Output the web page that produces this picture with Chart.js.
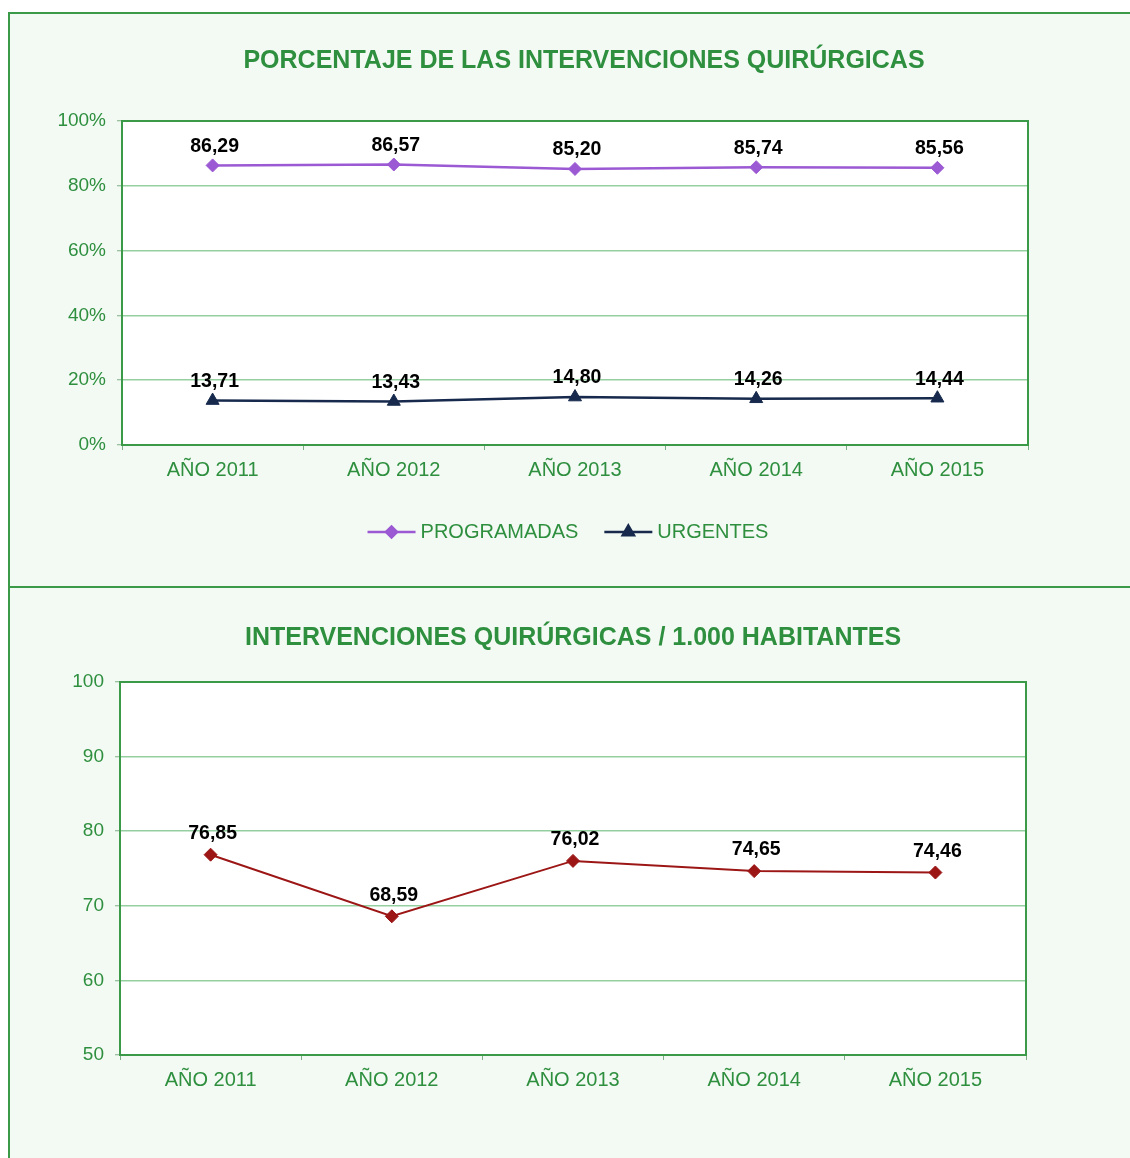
<!DOCTYPE html>
<html>
<head>
<meta charset="utf-8">
<script src="https://cdn.jsdelivr.net/npm/chart.js@4.4.1/dist/chart.umd.min.js"></script>
<style>
  body { margin: 0; background: #fff; width: 1130px; height: 1158px; overflow: hidden; position: relative; }
  .panel { position: absolute; left: 8px; width: 1200px; border: 2px solid #3a9a48; background: #f3faf3; }
  #p1 { top: 12px; height: 574px; }
  #p2 { top: 586px; height: 600px; }
  canvas { position: absolute; left: 0; }
  #c1 { top: 0; }
  #c2 { top: 588px; }
</style>
</head>
<body>
<div class="panel" id="p1"></div>
<div class="panel" id="p2"></div>
<canvas id="c1" width="1130" height="588"></canvas>
<canvas id="c2" width="1130" height="570"></canvas>
<script>
// data
var years = ['AÑO 2011', 'AÑO 2012', 'AÑO 2013', 'AÑO 2014', 'AÑO 2015'];
var programadas = [86.29, 86.57, 85.20, 85.74, 85.56];
var urgentes = [13.71, 13.43, 14.80, 14.26, 14.44];
var porMil = [76.85, 68.59, 76.02, 74.65, 74.46];

var green = '#3a9a48';
var textGreen = '#2e8f3f';
var gridGreen = '#95cf9f';
var font = '"Liberation Sans", Arial, sans-serif';

function fmt(v) {
  return v.toFixed(2).replace('.', ',');
}

// white plot area, green frame, value labels, title, legend
var decor = {
  id: 'decor',
  beforeDraw: function(chart) {
    var a = chart.chartArea;
    var ctx = chart.ctx;
    ctx.save();
    ctx.fillStyle = '#fff';
    ctx.fillRect(a.left, a.top, a.right - a.left, a.bottom - a.top);
    ctx.restore();
  },
  beforeDatasetsDraw: function(chart) {
    var a = chart.chartArea;
    var ctx = chart.ctx;
    ctx.save();
    ctx.strokeStyle = green;
    ctx.lineWidth = 2;
    ctx.strokeRect(a.left, a.top, a.right - a.left, a.bottom - a.top);
    ctx.restore();
  },
  afterDraw: function(chart, args, opts) {
    var ctx = chart.ctx;
    ctx.save();
    // title
    ctx.fillStyle = textGreen;
    ctx.font = 'bold 25px ' + font;
    ctx.textAlign = 'center';
    ctx.textBaseline = 'middle';
    ctx.fillText(opts.title, opts.titleX, opts.titleY);

    // value labels
    ctx.fillStyle = '#000';
    ctx.font = 'bold 19.5px ' + font;
    chart.data.datasets.forEach(function(ds, i) {
      var meta = chart.getDatasetMeta(i);
      meta.data.forEach(function(pt, j) {
        ctx.fillText(fmt(ds.data[j]), pt.x + 2, pt.y - opts.labelOffset);
      });
    });

    // legend
    if (opts.legendY) {
      ctx.font = '20px ' + font;
      var lineLen = 48, gap = 5, spacing = 26;
      var widths = chart.data.datasets.map(function(ds) {
        return lineLen + gap + ctx.measureText(ds.label).width;
      });
      var total = widths.reduce(function(s, w) { return s + w; }, 0) + spacing * (widths.length - 1);
      var x = opts.legendX - total / 2;
      var y = opts.legendY;
      chart.data.datasets.forEach(function(ds, i) {
        ctx.strokeStyle = ds.borderColor;
        ctx.lineWidth = 2.5;
        ctx.beginPath();
        ctx.moveTo(x, y);
        ctx.lineTo(x + lineLen, y);
        ctx.stroke();
        Chart.helpers.drawPoint(ctx, {
          pointStyle: ds.pointStyle,
          radius: ds.pointRadius - 1,
          borderWidth: 1
        }, x + lineLen / 2, y);
        ctx.fillStyle = ds.borderColor;
        ctx.fill();
        ctx.fillStyle = textGreen;
        ctx.textAlign = 'left';
        ctx.fillText(ds.label, x + lineLen + gap, y);
        x += widths[i] + spacing;
      });
    }
    ctx.restore();
  }
};

function xScale() {
  return {
    offset: true,
    grid: { offset: true, drawOnChartArea: false, drawTicks: true, tickLength: 5, color: '#7fae86', lineWidth: 1 },
    border: { color: green, width: 2 },
    ticks: { color: textGreen, font: { family: font, size: 20 }, padding: 8, maxRotation: 0 },
    afterFit: function(s) { s.height = 40; }
  };
}

function yScale(min, max, step, suffix) {
  return {
    min: min,
    max: max,
    grid: { color: gridGreen, lineWidth: 1.5, tickLength: 5, tickColor: '#7fae86', tickWidth: 1 },
    border: { color: green, width: 2 },
    ticks: {
      stepSize: step,
      color: textGreen,
      font: { family: font, size: 19 },
      padding: 11,
      callback: function(v) { return v + suffix; }
    },
    afterFit: function(s) { s.width = 80; }
  };
}

new Chart(document.getElementById('c1'), {
  type: 'line',
  data: {
    labels: years,
    datasets: [
      {
        label: 'PROGRAMADAS',
        data: programadas,
        borderColor: '#9b59d3',
        backgroundColor: '#9b59d3',
        borderWidth: 2.5,
        pointStyle: 'rectRot',
        pointRadius: 6.5,
        pointBorderWidth: 1,
        tension: 0
      },
      {
        label: 'URGENTES',
        data: urgentes,
        borderColor: '#172a4d',
        backgroundColor: '#172a4d',
        borderWidth: 2.5,
        pointStyle: 'triangle',
        pointRadius: 7.5,
        pointBorderWidth: 1,
        tension: 0
      }
    ]
  },
  options: {
    responsive: false,
    animation: false,
    layout: { padding: { left: 42, right: 102, top: 121, bottom: 103 } },
    scales: { x: xScale(), y: yScale(0, 100, 20, '%') },
    plugins: {
      legend: { display: false },
      tooltip: { enabled: false },
      decor: { title: 'PORCENTAJE DE LAS INTERVENCIONES QUIRÚRGICAS', titleX: 584, titleY: 61, labelOffset: 19, legendX: 568, legendY: 532 }
    }
  },
  plugins: [decor]
});

new Chart(document.getElementById('c2'), {
  type: 'line',
  data: {
    labels: years,
    datasets: [
      {
        label: 'INTERVENCIONES / 1.000 HAB.',
        data: porMil,
        borderColor: '#9c1616',
        backgroundColor: '#9c1616',
        borderWidth: 2,
        pointStyle: 'rectRot',
        pointRadius: 6.5,
        pointBorderWidth: 1,
        tension: 0
      }
    ]
  },
  options: {
    responsive: false,
    animation: false,
    layout: { padding: { left: 40, right: 104, top: 94, bottom: 63 } },
    scales: { x: xScale(), y: yScale(50, 100, 10, '') },
    plugins: {
      legend: { display: false },
      tooltip: { enabled: false },
      decor: { title: 'INTERVENCIONES QUIRÚRGICAS / 1.000 HABITANTES', titleX: 573, titleY: 638 - 588, labelOffset: 21 }
    }
  },
  plugins: [decor]
});
</script>
</body>
</html>
